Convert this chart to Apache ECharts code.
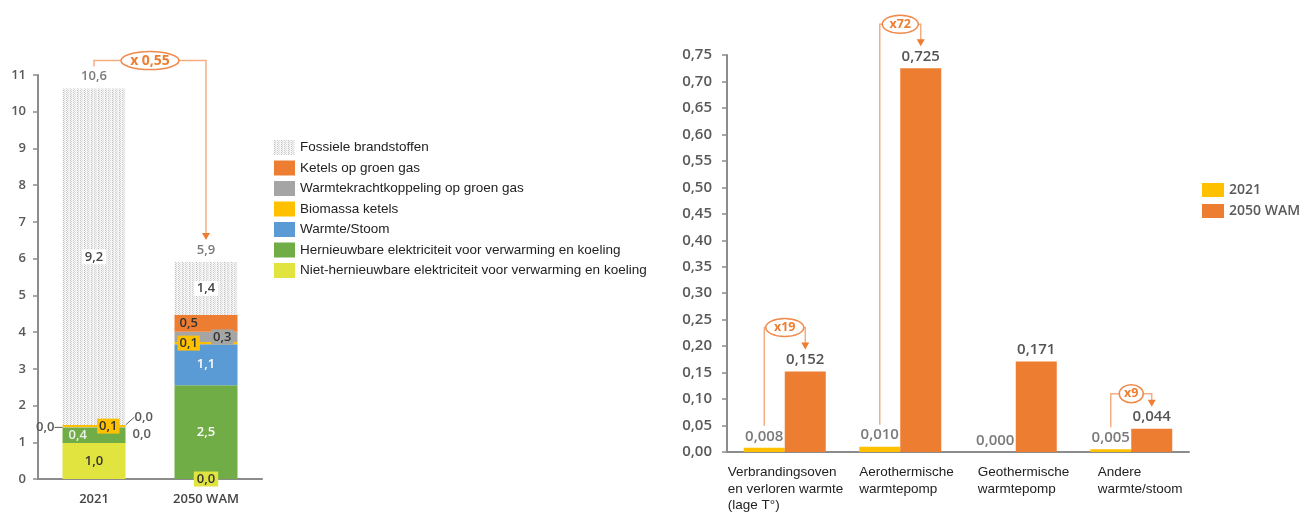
<!DOCTYPE html>
<html>
<head>
<meta charset="utf-8">
<script src="https://cdn.jsdelivr.net/npm/echarts@6/dist/echarts.min.js"></script>
<style>
  html, body { margin: 0; padding: 0; background: #fff; }
  #main { width: 1309px; height: 513px; }
</style>
</head>
<body>
<div id="main"></div>
<script>
// ---- Warmtemix (PJ) per jaar, gestapeld van onder naar boven ----
const mixYears = ['2021', '2050 WAM'];
const nietHernieuwbaar = [0.98, 0.0];
const hernieuwbaar = [0.42, 2.55];
const warmteStoom = [0.01, 1.12];
const biomassa = [0.06, 0.06];
const wkkGroenGas = [0.0, 0.28];
const ketelsGroenGas = [0.0, 0.46];
const fossiel = [9.16, 1.44];
const mixFactor = 'x 0,55';

// ---- Hernieuwbare warmte per technologie ----
const techCategories = [
  'Verbrandingsoven\nen verloren warmte\n(lage T°)',
  'Aerothermische\nwarmtepomp',
  'Geothermische\nwarmtepomp',
  'Andere\nwarmte/stoom'
];
const heat2021 = [0.008, 0.010, 0.000, 0.005];
const heat2050 = [0.152, 0.725, 0.171, 0.044];
const heatFactors = ['x19', 'x72', null, 'x9'];

const leftTicks = { min: 0, max: 11, interval: 1 };
const rightTicks = { min: 0, max: 0.75, interval: 0.05 };

const C = {
  orange: '#ED7D31', gray: '#A5A5A5', gold: '#FFC000', blue: '#5B9BD5',
  green: '#70AD47', lime: '#E1E33F', axis: '#8c8c8c', tick: '#595959',
  line: '#F5AE82'
};

const fmt = (v, d) => v.toFixed(d).replace('.', ',');

// stippled fill for fossil fuels: columns of fine grey dots
function stipple() {
  const c = document.createElement('canvas');
  c.width = 7; c.height = 4;
  const g = c.getContext('2d');
  g.fillStyle = '#f5f5f5';
  g.fillRect(0, 0, 7, 4);
  const dots = [
    [0, 0, '#c2c2c2'], [0, 2, '#c2c2c2'],
    [1, 1, '#d6d6d6'], [1, 3, '#d6d6d6'],
    [3, 0, '#cccccc'], [3, 2, '#cccccc'],
    [4, 1, '#d9d9d9'], [4, 3, '#d9d9d9'],
    [5, 0, '#e2e2e2'], [5, 2, '#e2e2e2']
  ];
  dots.forEach(d => { g.fillStyle = d[2]; g.fillRect(d[0], d[1], 1, 1); });
  return { image: c, repeat: 'repeat' };
}

const FONT = '"Open Sans", sans-serif';
const baseLabel = { show: true, fontFamily: FONT, fontSize: 13, fontWeight: 600, color: '#333' };
const leader = { show: true, lineStyle: { color: '#595959', width: 1 } };

// per-bar label options for the stacked chart
function withLabels(values, labels, lines) {
  return values.map((v, i) => {
    const item = {
      value: v,
      label: Object.assign({}, baseLabel, { formatter: p => fmt(p.value, 1) }, labels[i])
    };
    if (lines && lines[i]) item.labelLine = leader;
    return item;
  });
}

const stackDefs = [
  { name: 'Niet-hernieuwbare elektriciteit voor verwarming en koeling', data: nietHernieuwbaar, color: C.lime,
    labels: [{ position: 'inside' }, { position: 'inside', backgroundColor: C.lime, padding: [1, 3] }] },
  { name: 'Hernieuwbare elektriciteit voor verwarming en koeling', data: hernieuwbaar, color: C.green,
    labels: [{ position: 'insideLeft', color: '#eeeeee', distance: 6 }, { position: 'inside', color: '#ffffff' }] },
  { name: 'Warmte/Stoom', data: warmteStoom, color: C.blue,
    labels: [{ position: 'left', color: '#595959', distance: 8 }, { position: 'inside', color: '#ffffff' }],
    lines: [true, false] },
  { name: 'Biomassa ketels', data: biomassa, color: C.gold,
    labels: [{ position: 'insideRight', backgroundColor: C.gold, padding: [1, 2], distance: 6 },
             { position: 'insideLeft', backgroundColor: C.gold, padding: [1, 2], distance: 3 }] },
  { name: 'Warmtekrachtkoppeling op groen gas', data: wkkGroenGas, color: C.gray,
    labels: [{ position: 'right', color: '#595959', offset: [2, 9] },
             { position: 'insideRight', backgroundColor: C.gray, padding: [1, 2], distance: 4 }] },
  { name: 'Ketels op groen gas', data: ketelsGroenGas, color: C.orange,
    labels: [{ position: 'right', color: '#595959', offset: [4, -8] }, { position: 'insideLeft', distance: 5 }],
    lines: [true, false] },
  { name: 'Fossiele brandstoffen', data: fossiel, color: stipple(),
    labels: [{ position: 'inside', backgroundColor: '#ffffff', padding: [1, 3], color: '#444' },
             { position: 'inside', backgroundColor: '#ffffff', padding: [1, 3], color: '#444' }] }
];

const totals = mixYears.map((_, i) => stackDefs.reduce((s, d) => s + d.data[i], 0));

const series = stackDefs.map(d => ({
  name: d.name, type: 'bar', stack: 'mix', xAxisIndex: 0, yAxisIndex: 0,
  barWidth: 63, itemStyle: { color: d.color },
  data: withLabels(d.data, d.labels, d.lines), silent: true
}));

series.push({
  name: 'Totaal', type: 'scatter', xAxisIndex: 0, yAxisIndex: 0,
  symbolSize: 1, itemStyle: { color: 'rgba(0,0,0,0)' }, silent: true,
  data: totals,
  label: Object.assign({}, baseLabel, { position: 'top', distance: 5, color: '#595959', formatter: p => fmt(p.value, 1) })
});

const rightLabel = Object.assign({}, baseLabel, { fontSize: 15, position: 'top', distance: 4 });
series.push({
  name: '2021', type: 'bar', xAxisIndex: 1, yAxisIndex: 1, barWidth: 41, barGap: '0%',
  itemStyle: { color: C.gold }, data: heat2021, silent: true,
  label: Object.assign({}, rightLabel, { color: '#7a7a7a', formatter: p => fmt(p.value, 3) })
});
series.push({
  name: '2050 WAM', type: 'bar', xAxisIndex: 1, yAxisIndex: 1, barWidth: 41, barGap: '0%',
  itemStyle: { color: C.orange }, data: heat2050, silent: true,
  label: Object.assign({}, rightLabel, { color: '#555555', formatter: p => fmt(p.value, 3) })
});

const axisLine = { show: true, lineStyle: { color: C.axis, width: 2 } };
const tickLabel = { fontFamily: FONT, fontSize: 13, fontWeight: 600, color: C.tick };

const chart = echarts.init(document.getElementById('main'));
chart.setOption({
  animation: false,
  backgroundColor: '#ffffff',
  grid: [
    { left: 38, top: 75, width: 224, height: 404 },
    { left: 727, top: 55, width: 462, height: 397 }
  ],
  xAxis: [
    { type: 'category', gridIndex: 0, data: mixYears, axisLine, axisTick: { show: false },
      axisLabel: Object.assign({}, tickLabel, { color: '#444', margin: 14 }) },
    { type: 'category', gridIndex: 1, data: techCategories, axisLine, axisTick: { show: false },
      axisLabel: { show: false } }
  ],
  yAxis: [
    Object.assign({ type: 'value', gridIndex: 0, axisLine, splitLine: { show: false },
      axisTick: { show: true, length: 5, lineStyle: { color: C.axis, width: 1.5 } },
      axisLabel: Object.assign({}, tickLabel, { margin: 12 }) }, leftTicks),
    Object.assign({ type: 'value', gridIndex: 1, axisLine, splitLine: { show: false },
      axisTick: { show: true, length: 5, lineStyle: { color: C.axis, width: 1.5 } },
      axisLabel: Object.assign({}, tickLabel, { fontSize: 15, margin: 15, formatter: v => fmt(v, 2) }) }, rightTicks)
  ],
  legend: [
    { data: stackDefs.map(d => d.name).reverse(), orient: 'vertical', left: 269, top: 135,
      icon: 'rect', itemWidth: 21, itemHeight: 15, itemGap: 5.5, selectedMode: false,
      textStyle: { fontFamily: '"Liberation Sans", Arial, sans-serif', fontSize: 13.5, color: '#222' } },
    { data: ['2021', '2050 WAM'], orient: 'vertical', left: 1197, top: 178,
      icon: 'rect', itemWidth: 22, itemHeight: 14, itemGap: 7, selectedMode: false,
      textStyle: { fontFamily: FONT, fontSize: 14, fontWeight: 600, color: C.tick } }
  ],
  series
});

// ---- growth brackets and category labels, positioned from the bar layout ----
function barBox(seriesIndex, dataIndex) {
  const l = chart.getModel().getSeriesByIndex(seriesIndex).getData().getItemLayout(dataIndex);
  return { cx: l.x + l.width / 2, top: Math.min(l.y, l.y + l.height) };
}

function bracket(a, b, gap, text, rx, fontSize) {
  const yLevel = Math.min(a.top, b.top) - gap;
  const yStart = a.top - 22;
  const yTip = b.top - 22;
  const cx = (a.cx + b.cx) / 2;
  const ls = { stroke: C.line, lineWidth: 1.5, fill: null };
  return [
    { type: 'polyline', shape: { points: [[a.cx, yStart], [a.cx, yLevel], [cx - rx, yLevel]] }, style: ls },
    { type: 'polyline', shape: { points: [[cx + rx, yLevel], [b.cx, yLevel], [b.cx, yTip - 6]] }, style: ls },
    { type: 'polygon', shape: { points: [[b.cx - 4, yTip - 7], [b.cx + 4, yTip - 7], [b.cx, yTip]] }, style: { fill: C.orange } },
    { type: 'ellipse', shape: { cx, cy: yLevel, rx, ry: 9 }, style: { fill: '#ffffff', stroke: '#F0894A', lineWidth: 1.5 } },
    { type: 'text', x: cx, y: yLevel, style: { text, fill: C.orange, font: `bold ${fontSize}px ${FONT}`, align: 'center', verticalAlign: 'middle' } }
  ];
}

const FOSSIL = 6, S2021 = 8, S2050 = 9;
let graphics = [];
graphics = graphics.concat(bracket(barBox(FOSSIL, 0), barBox(FOSSIL, 1), 28, mixFactor, 29, 14));
const gaps = [44, 44, 0, 35];
const radii = [19, 18, 0, 12];
heatFactors.forEach((t, i) => {
  if (!t) return;
  graphics = graphics.concat(bracket(barBox(S2021, i), barBox(S2050, i), gaps[i], t, radii[i], 12.5));
});

const axisY = chart.convertToPixel({ yAxisIndex: 1 }, 0);
const labelShift = [-57, -41, -38, -33.5];
techCategories.forEach((t, i) => {
  const x = chart.convertToPixel({ xAxisIndex: 1 }, i);
  graphics.push({
    type: 'text', x: x + labelShift[i], y: axisY + 12,
    style: { text: t, fill: '#222', font: '13.5px "Liberation Sans", Arial, sans-serif', lineHeight: 16.7, align: 'left', verticalAlign: 'top' }
  });
});

chart.setOption({ graphic: graphics });
</script>
</body>
</html>
